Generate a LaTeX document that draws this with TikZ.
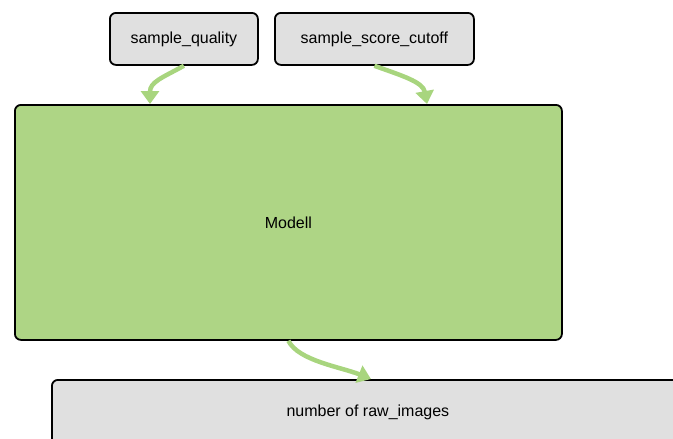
\documentclass[tikz,border=0pt]{standalone}
\usepackage{fontspec}
\setmainfont{Liberation Sans}
\usetikzlibrary{arrows.meta,calc}

\definecolor{boxgray}{HTML}{E0E0E0}
\definecolor{modelgreen}{HTML}{AED585}
\definecolor{flowgreen}{HTML}{A8D57E}

\tikzset{
  box/.style={draw=black, line width=1.8pt, rounded corners=6pt,
    anchor=north west, inner sep=0pt, font=\fontsize{16}{19}\selectfont},
  inbox/.style={box, fill=boxgray},
  modelbox/.style={box, fill=modelgreen},
  flow/.style={draw=flowgreen, line width=4.5pt,
    -{Triangle[length=13pt,width=18pt]}},
}

\begin{document}
\begin{tikzpicture}[x=1pt, y=-1pt]
  \clip (0,0) rectangle (673,439);

  % input parameters
  \node[inbox, minimum width=148pt, minimum height=52pt] (q) at (109,12) {sample\_quality};
  \node[inbox, minimum width=199pt, minimum height=52pt] (c) at (274,12) {sample\_score\_cutoff};

  % model
  \node[modelbox, minimum width=547pt, minimum height=235pt] (m) at (14,104) {Modell};

  % output
  \node[inbox, minimum width=632pt, minimum height=64pt] (o) at (51,379) {number of raw\_images};

  % arrow end points on the box edges
  \coordinate (m1) at ($(m.north west)+(136,0)$);
  \coordinate (m2) at ($(m.north west)+(413,0)$);
  \coordinate (o1) at ($(o.north west)+(320,0)$);

  \draw[flow] (q.south) .. controls +(-22,12) and +(0,-22) .. (m1);
  \draw[flow] (c.south) .. controls +(28,10) and +(-4,-22) .. (m2);
  \draw[flow] (m.south) .. controls +(10,20) and +(-30,-12) .. (o1);
\end{tikzpicture}
\end{document}
